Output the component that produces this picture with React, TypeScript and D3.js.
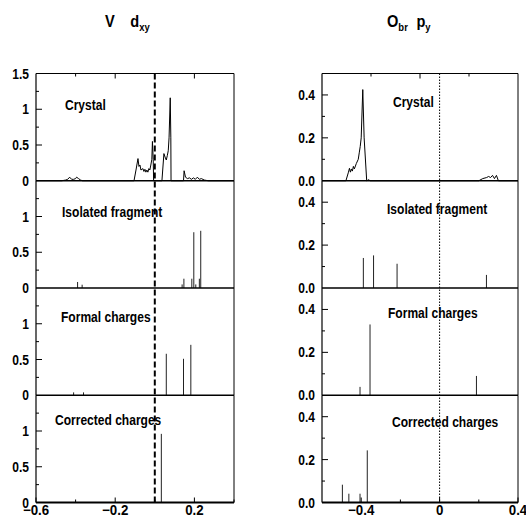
import { useEffect, useRef } from 'react';
import * as d3 from 'd3';

// V d_xy (left column), x in eV-ish units, y = weight
const crystalV: [number, number][] = [
  [-0.6, 0], [-0.47, 0], [-0.45, 0.01], [-0.44, 0.02], [-0.43, 0.05], [-0.42, 0.02],
  [-0.41, 0.02], [-0.4, 0.03], [-0.395, 0.05], [-0.385, 0.03], [-0.375, 0.01], [-0.365, 0],
  [-0.105, 0], [-0.095, 0.15], [-0.085, 0.31], [-0.08, 0.2], [-0.075, 0.22], [-0.07, 0.15],
  [-0.06, 0.17], [-0.055, 0.13], [-0.05, 0.16], [-0.045, 0.12], [-0.04, 0.15], [-0.035, 0.12],
  [-0.03, 0.17], [-0.025, 0.15], [-0.02, 0.22], [-0.015, 0.3], [-0.012, 0.55], [-0.008, 0.3],
  [-0.006, 0], [0.036, 0], [0.046, 0.38], [0.052, 0.33], [0.058, 0.29], [0.063, 0.35],
  [0.068, 0.42], [0.072, 0.6], [0.078, 1.16], [0.081, 0.6], [0.082, 0], [0.145, 0],
  [0.148, 0.14], [0.155, 0.05], [0.165, 0.03], [0.175, 0.04], [0.185, 0.02], [0.195, 0.04],
  [0.205, 0.02], [0.215, 0.05], [0.225, 0.02], [0.235, 0.03], [0.25, 0.01], [0.27, 0], [0.4, 0],
];
const isolatedV: [number, number][] = [
  [-0.39, 0.084], [-0.367, 0.046], [0.138, 0.05], [0.147, 0.13], [0.187, 0.13],
  [0.197, 0.78], [0.207, 0.05], [0.225, 0.13], [0.232, 0.8],
];
const formalV: [number, number][] = [
  [-0.41, 0.04], [-0.36, 0.04], [0.058, 0.58], [0.145, 0.51], [0.182, 0.705],
];
const correctedV: [number, number][] = [[0.033, 0.96]];

// O_br p_y (right column)
const crystalO: [number, number][] = [
  [-0.6, 0], [-0.478, 0], [-0.465, 0.04], [-0.46, 0.058], [-0.455, 0.04], [-0.45, 0.055],
  [-0.445, 0.045], [-0.44, 0.067], [-0.435, 0.055], [-0.425, 0.08], [-0.415, 0.1],
  [-0.41, 0.13], [-0.405, 0.16], [-0.4, 0.2], [-0.392, 0.425], [-0.385, 0.2], [-0.372, 0],
  [-0.36, 0.005], [-0.355, 0], [0.2, 0], [0.22, 0.01], [0.24, 0.015], [0.25, 0.02],
  [0.26, 0.015], [0.27, 0.025], [0.28, 0.01], [0.29, 0.025], [0.3, 0], [0.4, 0],
];
const isolatedO: [number, number][] = [
  [-0.389, 0.14], [-0.337, 0.152], [-0.217, 0.113], [0.239, 0.061],
];
const formalO: [number, number][] = [[-0.406, 0.039], [-0.355, 0.33], [0.188, 0.09]];
const correctedO: [number, number][] = [
  [-0.496, 0.083], [-0.463, 0.041], [-0.406, 0.041], [-0.369, 0.243],
];

const panelNames = ['Crystal', 'Isolated fragment', 'Formal charges', 'Corrected charges'];

const leftYMajor = [0, 0.5, 1];
const leftYMinor = [0.25, 0.75, 1.25];
const rightYMajor = [0, 0.2, 0.4];
const rightYMinor = [0.1, 0.3];
const leftXLabels = [-0.6, -0.2, 0.2];
const leftXMinor = [-0.4, 0, 0.4];
const rightXLabels = [-0.4, 0, 0.4];
const rightXMinor = [-0.2, 0.2];

const FONT = '"Liberation Sans", Arial, sans-serif';

// bold, horizontally squeezed text (Helvetica Narrow look)
function narrowText(parent: any, x: number, y: number, str: string, size: number, anchor = 'start', sx = 0.86) {
  return parent.append('g')
    .attr('transform', `translate(${x},${y}) scale(${sx},1)`)
    .append('text')
    .attr('font-family', FONT)
    .attr('font-weight', 'bold')
    .attr('font-size', size)
    .attr('text-anchor', anchor)
    .text(str);
}

function App() {
  const svgRef = useRef(null);

  useEffect(() => {
    const svg = d3.select(svgRef.current);
    svg.selectAll('*').remove();

    const top0 = 73.5;
    const panelH = 107.25;

    const columns = [
      {
        x: d3.scaleLinear().domain([-0.6, 0.4]).range([36, 234]),
        yMax: 1.5,
        showMax: true,
        major: leftYMajor,
        minor: leftYMinor,
        fmt: (d: number) => d3.format('')(d),
        data: [crystalV, isolatedV, formalV, correctedV],
        labelX: [65, 62, 61, 55],
        labelDy: [36, 36, 34, 30],
        xLabels: leftXLabels,
        xMinor: leftXMinor,
        topMajor: [-0.2, 0.2],
        topMinor: [-0.4],
        dash: '6,3',
        dashW: 2,
      },
      {
        x: d3.scaleLinear().domain([-0.6, 0.4]).range([322, 518]),
        yMax: 0.5,
        showMax: false,
        major: rightYMajor,
        minor: rightYMinor,
        fmt: d3.format('.1f'),
        data: [crystalO, isolatedO, formalO, correctedO],
        labelX: [393, 387, 388, 392],
        labelDy: [33, 33, 30, 32],
        xLabels: rightXLabels,
        xMinor: rightXMinor,
        topMajor: [-0.1],
        topMinor: [-0.35, 0.15],
        dash: '1.5,1.5',
        dashW: 1,
      },
    ];

    columns.forEach((col) => {
      const [x0, x1] = col.x.range();
      col.data.forEach((series, i) => {
        const top = top0 + i * panelH;
        const y = d3.scaleLinear().domain([0, col.yMax]).range([top + panelH, top]);
        const g = svg.append('g');

        // frame: left, right, top
        g.append('line').attr('x1', x0).attr('x2', x0).attr('y1', top).attr('y2', top + panelH)
          .attr('stroke', '#000').attr('stroke-width', 1.2);
        g.append('line').attr('x1', x1).attr('x2', x1).attr('y1', top).attr('y2', top + panelH)
          .attr('stroke', '#000').attr('stroke-width', 1);
        if (i === 0) {
          g.append('line').attr('x1', x0).attr('x2', x1).attr('y1', top).attr('y2', top)
            .attr('stroke', '#000').attr('stroke-width', 1);
          col.topMajor.forEach((t) => {
            g.append('line').attr('x1', col.x(t)).attr('x2', col.x(t)).attr('y1', top).attr('y2', top + 5)
              .attr('stroke', '#000').attr('stroke-width', 1);
          });
          col.topMinor.forEach((t) => {
            g.append('line').attr('x1', col.x(t)).attr('x2', col.x(t)).attr('y1', top).attr('y2', top + 3)
              .attr('stroke', '#000').attr('stroke-width', 1);
          });
        }

        // y ticks
        const majors = i === 0 && col.showMax ? [...col.major, col.yMax] : col.major;
        majors.forEach((t) => {
          if (t > 0 && t < col.yMax) {
            g.append('line').attr('x1', x0).attr('x2', x0 + 6).attr('y1', y(t)).attr('y2', y(t))
              .attr('stroke', '#000').attr('stroke-width', 1);
          }
          narrowText(g, x0 - 7, y(t) + 5, col.fmt(t), 14, 'end');
        });
        col.minor.forEach((t) => {
          g.append('line').attr('x1', x0).attr('x2', x0 + 3).attr('y1', y(t)).attr('y2', y(t))
            .attr('stroke', '#000').attr('stroke-width', 1);
        });

        // data
        if (i === 0) {
          const line = d3.line<[number, number]>().x((d) => col.x(d[0])).y((d) => y(d[1]));
          g.append('path').attr('d', line(series)).attr('fill', 'none')
            .attr('stroke', '#000').attr('stroke-width', 1);
        } else {
          g.selectAll('.stick').data(series).enter().append('line')
            .attr('x1', (d) => col.x(d[0])).attr('x2', (d) => col.x(d[0]))
            .attr('y1', y(0)).attr('y2', (d) => y(d[1]))
            .attr('stroke', '#222').attr('stroke-width', 1);
        }

        // zero/bottom line
        g.append('line').attr('x1', x0).attr('x2', x1).attr('y1', y(0)).attr('y2', y(0))
          .attr('stroke', '#000').attr('stroke-width', i === 3 ? 2 : 1.6);

        narrowText(g, col.labelX[i], top + col.labelDy[i], panelNames[i], 14);
      });

      // Fermi level line
      const bottom = top0 + 4 * panelH;
      svg.append('line').attr('x1', col.x(0)).attr('x2', col.x(0)).attr('y1', top0).attr('y2', bottom)
        .attr('stroke', '#000').attr('stroke-width', col.dashW).attr('stroke-dasharray', col.dash);

      // bottom x axis ticks + labels
      col.xLabels.forEach((t) => {
        svg.append('line').attr('x1', col.x(t)).attr('x2', col.x(t)).attr('y1', bottom).attr('y2', bottom - 5)
          .attr('stroke', '#000').attr('stroke-width', 1);
        const s = t === 0 ? '0' : d3.format('.1f')(t).replace('-', '\u2212');
        narrowText(svg, col.x(t), bottom + 12, s, 14, 'middle', 0.95);
      });
      col.xMinor.forEach((t) => {
        svg.append('line').attr('x1', col.x(t)).attr('x2', col.x(t)).attr('y1', bottom).attr('y2', bottom - 3)
          .attr('stroke', '#000').attr('stroke-width', 1);
      });
    });

    // titles
    const t1 = narrowText(svg, 105, 27, '', 17);
    t1.append('tspan').text('V');
    t1.append('tspan').attr('dx', 18).text('d');
    t1.append('tspan').attr('font-size', 11).attr('dy', 4).text('xy');

    const t2 = narrowText(svg, 387, 27, '', 17);
    t2.append('tspan').text('O');
    t2.append('tspan').attr('font-size', 11).attr('dy', 4).text('br');
    t2.append('tspan').attr('dy', -4).attr('dx', 10).text('p');
    t2.append('tspan').attr('font-size', 11).attr('dy', 4).text('y');
  }, []);

  return (
    <svg
      ref={svgRef}
      width={526}
      height={524}
      style={{ position: 'absolute', left: 0, top: 0, background: '#fff' }}
    />
  );
}

export default App;
